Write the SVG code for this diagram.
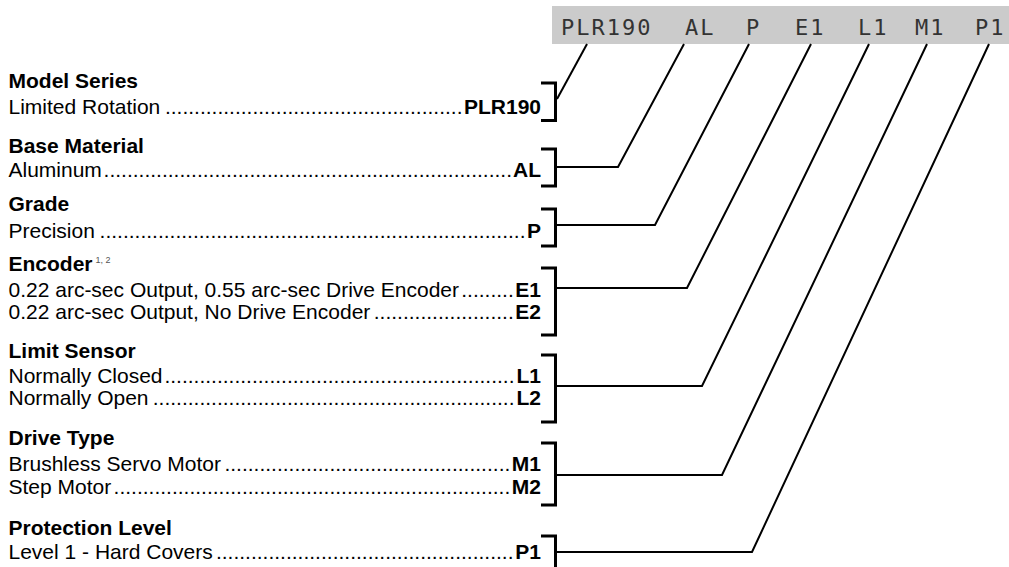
<svg xmlns="http://www.w3.org/2000/svg" width="1009" height="567" viewBox="0 0 1009 567">
<style>
.h{font-family:"Liberation Sans",Arial,sans-serif;font-size:21px;font-weight:bold;fill:#000}
.t{font-family:"Liberation Sans",Arial,sans-serif;font-size:21px;fill:#000}
.d{font-family:"Liberation Sans",Arial,sans-serif;font-size:21px;fill:#000;text-anchor:end}
.v{font-family:"Liberation Sans",Arial,sans-serif;font-size:21px;font-weight:bold;fill:#000;text-anchor:end}
.sup{font-family:"Liberation Sans",Arial,sans-serif;font-size:9px;fill:#555}
.code{font-family:"DejaVu Sans Mono",monospace;font-size:22px;letter-spacing:2px;fill:#333}
.br{fill:none;stroke:#000;stroke-width:3}
.cn{fill:none;stroke:#000;stroke-width:2}
</style>
<g id="code-bar">
<rect x="552" y="6" width="457" height="38" fill="#cbcbcb"/>
<text class="code" x="561" y="35">PLR190</text>
<text class="code" x="685" y="35">AL</text>
<text class="code" x="746" y="35">P</text>
<text class="code" x="795" y="35">E1</text>
<text class="code" x="858" y="35">L1</text>
<text class="code" x="915" y="35">M1</text>
<text class="code" x="975" y="35">P1</text>
</g>
<g id="model-series">
<text class="h" x="8.5" y="88">Model Series</text>
<text class="t" x="8.5" y="113.5">Limited Rotation</text>
<text class="d" x="462.5" y="113.5">...................................................</text>
<text class="v" x="541" y="113.5">PLR190</text>
<path class="br" d="M541,83 H555.5 V120.5 H541"/>
</g>
<g id="base-material">
<text class="h" x="8.5" y="153">Base Material</text>
<text class="t" x="8.5" y="177">Aluminum</text>
<text class="d" x="512" y="177">......................................................................</text>
<text class="v" x="541" y="177">AL</text>
<path class="br" d="M541,149 H555.5 V186 H541"/>
</g>
<g id="grade">
<text class="h" x="8.5" y="211">Grade</text>
<text class="t" x="8.5" y="238">Precision</text>
<text class="d" x="525.5" y="238">.........................................................................</text>
<text class="v" x="541" y="238">P</text>
<path class="br" d="M541,209 H555.5 V246 H541"/>
</g>
<g id="encoder">
<text class="h" x="8.5" y="271">Encoder</text>
<text class="sup" x="95.5" y="263">1, 2</text>
<text class="t" x="8.5" y="296.5">0.22 arc-sec Output, 0.55 arc-sec Drive Encoder</text>
<text class="d" x="513.8" y="296.5">.........</text>
<text class="v" x="541" y="296.5">E1</text>
<text class="t" x="8.5" y="318.5">0.22 arc-sec Output, No Drive Encoder</text>
<text class="d" x="513.8" y="318.5">........................</text>
<text class="v" x="541" y="318.5">E2</text>
<path class="br" d="M541,268 H555.5 V335 H541"/>
</g>
<g id="limit-sensor">
<text class="h" x="8.5" y="358">Limit Sensor</text>
<text class="t" x="8.5" y="383">Normally Closed</text>
<text class="d" x="514.5" y="383">............................................................</text>
<text class="v" x="541" y="383">L1</text>
<text class="t" x="8.5" y="405">Normally Open</text>
<text class="d" x="514.5" y="405">..............................................................</text>
<text class="v" x="541" y="405">L2</text>
<path class="br" d="M541,355 H555.5 V422 H541"/>
</g>
<g id="drive-type">
<text class="h" x="8.5" y="445">Drive Type</text>
<text class="t" x="8.5" y="471">Brushless Servo Motor</text>
<text class="d" x="510.3" y="471">.................................................</text>
<text class="v" x="541" y="471">M1</text>
<text class="t" x="8.5" y="494">Step Motor</text>
<text class="d" x="510.3" y="494">....................................................................</text>
<text class="v" x="541" y="494">M2</text>
<path class="br" d="M541,443 H555.5 V505 H541"/>
</g>
<g id="protection-level">
<text class="h" x="8.5" y="535">Protection Level</text>
<text class="t" x="8.5" y="559">Level 1 - Hard Covers</text>
<text class="d" x="513.5" y="559">...................................................</text>
<text class="v" x="541" y="559">P1</text>
<path class="br" d="M541,536 H555.5 V573 H541"/>
</g>
<g id="connectors">
<path class="cn" d="M557,99 L587,44"/>
<path class="cn" d="M557,167 H618 L684,44"/>
<path class="cn" d="M557,225 H655 L749,44"/>
<path class="cn" d="M557,288 H687 L811,44"/>
<path class="cn" d="M557,386 H702 L869,44"/>
<path class="cn" d="M557,475 H722 L927,44"/>
<path class="cn" d="M557,552 H752 L989,44"/>
</g>
</svg>
